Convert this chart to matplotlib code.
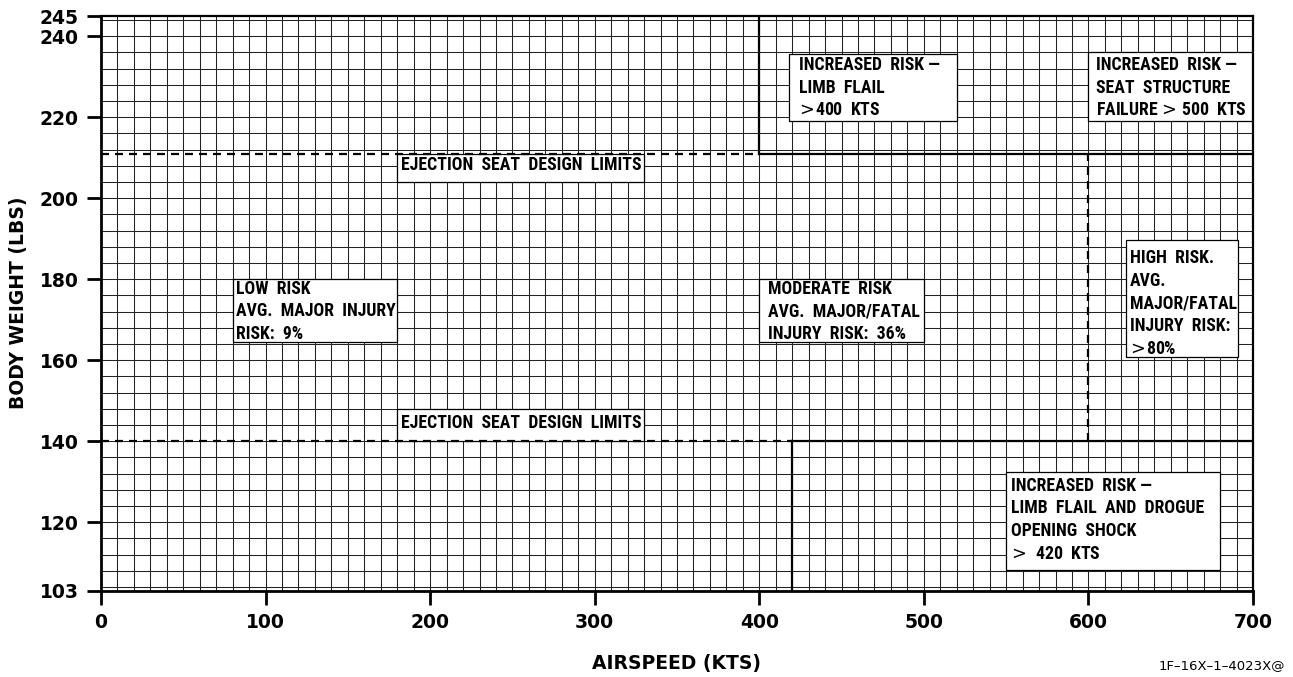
import matplotlib
matplotlib.use("Agg")
import matplotlib.pyplot as plt
from matplotlib.patches import Rectangle
from matplotlib import font_manager as fm

# ---- data ----
x_ticks = [0, 100, 200, 300, 400, 500, 600, 700]
y_ticks = [103, 120, 140, 160, 180, 200, 220, 240, 245]
x_grid = list(range(10, 700, 10))
y_grid = list(range(104, 245, 4))

upper_limit = 211   # ejection seat design limit (upper)
lower_limit = 140   # ejection seat design limit (lower)
flail_speed = 400   # limb flail above upper limit
drogue_speed = 420  # limb flail and drogue below lower limit
high_risk_speed = 600

GT = r"$\!>\!$"
labels = {
    "limb": "INCREASED  RISK —\nLIMB  FLAIL\n" + GT + "400  KTS",
    "seat": "INCREASED  RISK —\nSEAT  STRUCTURE\nFAILURE " + GT + " 500  KTS",
    "low": "LOW  RISK\nAVG.  MAJOR  INJURY\nRISK:  9%",
    "mod": "MODERATE  RISK\nAVG.  MAJOR/FATAL\nINJURY  RISK:  36%",
    "high": "HIGH  RISK.\nAVG.\nMAJOR/FATAL\nINJURY  RISK:\n" + GT + "80%",
    "drogue": "INCREASED  RISK —\nLIMB  FLAIL  AND  DROGUE\nOPENING  SHOCK\n" + GT + "  420  KTS",
    "ejection": "EJECTION  SEAT  DESIGN  LIMITS",
}

# pick an installed condensed sans family
available = {f.name for f in fm.fontManager.ttflist}
prefs = ["Roboto Condensed", "Archivo Narrow", "PT Sans Narrow", "IBM Plex Sans Condensed",
         "Fira Sans Condensed", "Open Sans Condensed", "Barlow Semi Condensed",
         "Sofia Sans Semi Condensed", "Liberation Sans Narrow", "DejaVu Sans"]
COND = next(p for p in prefs if p in available)
FONT = [COND, "DejaVu Sans"]

# ---- figure ----
fig = plt.figure(figsize=(12.93, 6.77), dpi=100)
ax = fig.add_axes([101/1293, 1-591/677, (1253-101)/1293, (591-16)/677])
ax.set_xlim(0, 700)
ax.set_ylim(103, 245)

for xv in x_grid:
    ax.axvline(xv, color="#222222", lw=0.75, zorder=1)
for yv in y_grid:
    ax.axhline(yv, color="#222222", lw=0.75, zorder=1)

dash = (0, (3.6, 2.7))
LW = 1.6
ax.plot([0, flail_speed], [upper_limit, upper_limit], color="black", lw=LW, linestyle=dash, zorder=4)
ax.plot([flail_speed, 700], [upper_limit, upper_limit], color="black", lw=LW, zorder=4)
ax.plot([flail_speed, flail_speed], [upper_limit, 245], color="black", lw=LW, zorder=4)
ax.plot([0, drogue_speed], [lower_limit, lower_limit], color="black", lw=LW, linestyle=dash, zorder=4)
ax.plot([drogue_speed, 700], [lower_limit, lower_limit], color="black", lw=LW, zorder=4)
ax.plot([drogue_speed, drogue_speed], [103, lower_limit], color="black", lw=LW, zorder=4)
ax.plot([high_risk_speed, high_risk_speed], [lower_limit, upper_limit], color="black", lw=LW, linestyle=dash, zorder=4)

FS = 12.8

def box(x0, x1, y0, y1, text, tx, ty):
    ax.add_patch(Rectangle((x0, y0), x1 - x0, y1 - y0, facecolor="white",
                           edgecolor="black", lw=0.9, zorder=3))
    ax.text(tx, ty, text, ha="left", va="center", fontsize=FS, family=FONT,
            fontweight="bold", linespacing=1.33, zorder=5)

box(418, 520, 219, 235.7, labels["limb"], 424, 227.3)
box(600, 700, 219, 236, labels["seat"], 604.5, 227.3)
box(180, 330, 204, 211, labels["ejection"], 182.5, 208.3)
box(180, 330, 140, 148, labels["ejection"], 182.5, 144.5)
box(80, 180, 164.4, 180, labels["low"], 82, 172.1)
box(400, 500, 164.4, 180, labels["mod"], 405, 172.1)
box(623, 691, 160.7, 189.6, labels["high"], 625, 174.0)
box(550, 680, 108.2, 132.3, labels["drogue"], 553, 120.6)

ax.set_xticks(x_ticks)
ax.set_yticks(y_ticks)
ax.tick_params(axis="both", direction="out", length=10, width=2, pad=6,
               labelsize=13.5)
for lab in ax.get_xticklabels() + ax.get_yticklabels():
    lab.set_fontweight("bold")
    lab.set_family("DejaVu Sans")
for s in ax.spines.values():
    s.set_linewidth(1.6)
    s.set_zorder(6)
ax.spines["left"].set_linewidth(2)
ax.spines["bottom"].set_linewidth(2)

fig.text(677/1293, 1-663/677, "AIRSPEED (KTS)", ha="center", va="center",
         fontsize=13.5, fontweight="bold", family="DejaVu Sans")
fig.text(19/1293, 1-303/677, "BODY WEIGHT (LBS)", ha="center", va="center",
         rotation=90, fontsize=13.5, fontweight="bold", family="DejaVu Sans")
fig.text(1285/1293, 1-666/677, "1F–16X–1–4023X@", ha="right", va="center",
         fontsize=9.5, family="DejaVu Sans")

fig.savefig("out.png", dpi=100)
